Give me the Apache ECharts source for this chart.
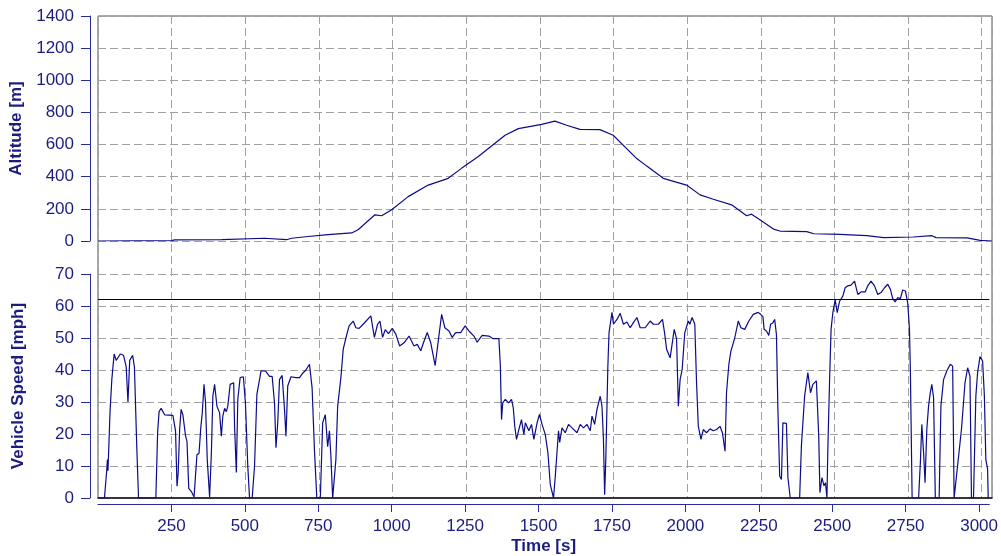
<!DOCTYPE html>
<html>
<head>
<meta charset="utf-8">
<script src="https://cdn.jsdelivr.net/npm/echarts@6/dist/echarts.min.js"></script>
<style>
  html, body { margin: 0; padding: 0; background: #fff; }
  #main { width: 1001px; height: 556px; }
</style>
</head>
<body>
<div id="main"></div>
<script>
// altitude profile [s] / [m]
const altTime = [0, 250, 260, 420, 425, 565, 570, 640, 657, 713, 781, 861, 883, 940, 963, 997, 1053, 1121, 1189, 1234, 1290, 1382, 1427, 1506, 1551, 1591, 1636, 1704, 1749, 1829, 1863, 1919, 1998, 2044, 2089, 2151, 2202, 2219, 2247, 2293, 2315, 2406, 2430, 2519, 2610, 2667, 2768, 2831, 2845, 2950, 2995, 3035];
const altValue = [0, 2, 7, 8, 17, 17, 8, 8, 17, 28, 40, 50, 70, 163, 157, 194, 276, 348, 390, 452, 524, 658, 699, 726, 746, 720, 695, 693, 658, 513, 466, 390, 348, 287, 260, 225, 157, 167, 132, 74, 62, 58, 45, 41, 33, 21, 25, 33, 21, 19, 4, 0];

// vehicle speed [s] / [mph]
const speedTime = [0, 22, 30, 32, 34, 41, 47, 55, 62, 76, 87, 96, 102, 108, 118, 124, 132, 138, 197, 203, 208, 215, 221, 227, 255, 264, 269, 273, 278, 283, 289, 298, 303, 309, 318, 327, 332, 337, 344, 350, 355, 361, 366, 372, 380, 386, 391, 397, 405, 414, 420, 425, 431, 437, 442, 450, 462, 465, 471, 476, 484, 495, 502, 510, 516, 525, 533, 541, 550, 555, 570, 584, 593, 601, 606, 612, 618, 627, 635, 640, 646, 657, 674, 686, 697, 708, 720, 729, 737, 745, 757, 765, 774, 782, 788, 793, 799, 804, 810, 816, 827, 835, 844, 855, 869, 878, 889, 906, 929, 941, 952, 960, 969, 978, 989, 1002, 1014, 1027, 1042, 1059, 1076, 1087, 1099, 1110, 1121, 1133, 1148, 1155, 1170, 1181, 1195, 1206, 1218, 1235, 1250, 1263, 1280, 1291, 1308, 1331, 1345, 1365, 1370, 1374, 1378, 1387, 1398, 1408, 1414, 1419, 1425, 1433, 1442, 1450, 1455, 1467, 1476, 1484, 1495, 1503, 1512, 1523, 1532, 1540, 1551, 1557, 1568, 1572, 1580, 1591, 1602, 1614, 1631, 1642, 1653, 1665, 1676, 1682, 1691, 1699, 1710, 1716, 1721, 1725, 1729, 1736, 1740, 1750, 1755, 1767, 1778, 1789, 1801, 1812, 1823, 1835, 1846, 1863, 1880, 1891, 1908, 1922, 1929, 1936, 1948, 1953, 1962, 1970, 1976, 1982, 1989, 1998, 2010, 2015, 2023, 2032, 2038, 2044, 2053, 2061, 2072, 2084, 2095, 2106, 2118, 2126, 2135, 2140, 2148, 2155, 2168, 2180, 2189, 2202, 2216, 2231, 2248, 2256, 2264, 2268, 2276, 2284, 2290, 2298, 2304, 2310, 2315, 2321, 2327, 2332, 2344, 2349, 2357, 2389, 2395, 2406, 2417, 2426, 2434, 2446, 2454, 2458, 2465, 2472, 2477, 2482, 2485, 2491, 2496, 2502, 2510, 2517, 2525, 2536, 2544, 2553, 2564, 2576, 2587, 2598, 2612, 2621, 2632, 2644, 2655, 2666, 2678, 2689, 2698, 2706, 2714, 2723, 2732, 2740, 2749, 2757, 2763, 2766, 2772, 2794, 2800, 2805, 2811, 2816, 2822, 2828, 2834, 2839, 2845, 2851, 2864, 2870, 2879, 2890, 2902, 2910, 2915, 2921, 2940, 2952, 2961, 2969, 2974, 2981, 2989, 2995, 3003, 3012, 3018, 3023, 3029, 3031];
const speedValue = [0, 0, 9, 12, 8.5, 27, 37, 45, 43, 45, 44.6, 41, 30, 43, 44.6, 41, 16, 0, 0, 20.5, 27, 28, 27.5, 26, 25.8, 21, 3.7, 7.8, 21.4, 27.7, 26, 19.5, 17.7, 3, 2, 0.3, 7, 13.5, 14, 22, 26.6, 35.5, 30, 12, 0.3, 14, 31.8, 35.5, 28.7, 26.6, 19.3, 25.6, 28, 27, 28.7, 35.5, 36, 22.4, 8, 30.8, 37.6, 37.9, 29.7, 10, 0, 0, 10, 32.4, 37, 39.7, 39.7, 38, 38, 29.7, 15.7, 23.5, 37, 38.3, 27.7, 19.3, 35, 37.9, 37.6, 37.6, 39, 40, 41.8, 34.4, 15, 0, 0, 23.5, 26, 16, 21, 13, 0, 0, 12, 28.7, 37.6, 46.5, 50, 53.8, 55.3, 53.2, 53, 54.6, 56.9, 50.2, 54.3, 55.3, 50.2, 52.6, 51.4, 53, 51.2, 47.5, 48.5, 50.6, 47.5, 48, 46, 49, 51.7, 48.5, 41.4, 46.5, 57.4, 53.2, 52.2, 50.2, 51.7, 51.7, 53.8, 52.2, 50.6, 48.7, 50.8, 50.6, 49.8, 49.8, 41.2, 24.5, 29.7, 30.8, 29.7, 30.8, 28.2, 22.4, 18.3, 21.4, 24.5, 19.8, 23.5, 21, 23, 18.3, 23.5, 26.1, 23, 19.8, 14, 4.2, 0, 6.8, 21, 17.4, 21.9, 20.4, 23, 21.9, 20.4, 23, 21.9, 23, 21, 25.6, 23, 27.7, 31.8, 28.7, 18.3, 1, 12, 41.2, 51.7, 58, 54.3, 55.8, 57.7, 54.3, 55, 53.2, 54.8, 56.4, 53.2, 53.2, 55.3, 54.3, 54.3, 55.8, 51.7, 46.5, 43.8, 43.3, 52.7, 49.7, 28.7, 37, 40.2, 51.7, 55.3, 54.3, 56.4, 54.3, 36, 22.4, 18.3, 21.4, 20.4, 21.6, 21, 21.4, 22.4, 20.4, 14.6, 32.9, 41.8, 45.9, 50, 55.3, 53.2, 52.7, 55.3, 57.4, 58, 57.4, 56.7, 52.7, 52.2, 50.8, 54.3, 54.8, 55.8, 51.1, 27.7, 6.9, 5.8, 23.5, 23.3, 6.4, 0, 0, 16.3, 31.9, 39.2, 32.9, 35.5, 36.6, 19.4, 1.7, 6.4, 3.8, 4.8, 0, 15.2, 37, 52.7, 57.9, 62, 57.9, 61.5, 63.1, 65.7, 66.3, 66.5, 67.8, 63.6, 64.4, 64.4, 66.3, 67.8, 66.3, 63.6, 64.2, 65.7, 66.8, 65.2, 62.3, 61.3, 62.6, 62.3, 65, 64.7, 61, 52.7, 40, 0, 0, 11, 23, 14.2, 4.8, 21.5, 28.8, 33, 35.5, 31.4, 0, 0, 28.8, 37, 39.7, 41.8, 41.2, 0, 0, 21.5, 36, 40.7, 38, 0, 0, 31.9, 39.2, 44.2, 42.8, 31.9, 12, 9, 0];

const speedLimit = 62.14; // 100 km/h
const timeTicks = [250, 500, 750, 1000, 1250, 1500, 1750, 2000, 2250, 2500, 2750, 3000];

const altData = altTime.map((t, i) => [t, altValue[i]]);
const speedData = speedTime.map((t, i) => [t, speedValue[i]]);

const lineCol = '#0c0c8a';
const axisCol = '#2a2aa0';
const textCol = '#1c1c80';
const font = 'Liberation Sans, Arial, sans-serif';
const dashed = { show: true, lineStyle: { color: '#a0a0a0', type: [8, 4], width: 1 } };
const plain = v => String(v);
const nameStyle = { color: textCol, fontSize: 17, fontWeight: 'bold', fontFamily: font };

const chart = echarts.init(document.getElementById('main'));

const yBase = {
    type: 'value',
    offset: 8,
    axisLine: { show: true, onZero: false, lineStyle: { color: axisCol, width: 1 } },
    axisTick: { show: true, length: 9, lineStyle: { color: axisCol } },
    axisLabel: { color: textCol, fontSize: 17, fontFamily: font, margin: 16, formatter: plain },
    splitLine: dashed,
    nameLocation: 'middle',
    nameGap: 63,
    nameTextStyle: nameStyle
};

chart.setOption({
    animation: false,
    backgroundColor: '#fff',
    grid: [
        // frame + vertical grid across both panels
        { left: 98, right: 9, top: 16, height: 482, show: true, borderColor: '#555', borderWidth: 1, backgroundColor: 'transparent' },
        { left: 98, right: 9, top: 16, height: 225 },
        { left: 98, right: 9, top: 274, height: 224 }
    ],
    xAxis: [
        {
            gridIndex: 0, type: 'value', min: 0, max: 3035, interval: 250,
            axisLine: { show: true, onZero: false, lineStyle: { color: '#111', width: 1.5 } },
            axisTick: { show: false }, axisLabel: { show: false },
            splitLine: dashed
        },
        { gridIndex: 1, type: 'value', min: 0, max: 3035, show: false },
        {
            gridIndex: 2, type: 'value', min: 0, max: 3035, interval: 250,
            offset: 6,
            axisLine: { show: true, onZero: false, lineStyle: { color: axisCol, width: 1 } },
            axisTick: { show: true, length: 8, customValues: timeTicks, lineStyle: { color: axisCol } },
            axisLabel: { color: textCol, fontSize: 17, fontFamily: font, margin: 14, customValues: timeTicks, formatter: plain },
            splitLine: { show: false },
            name: 'Time [s]',
            nameLocation: 'middle',
            nameGap: 34,
            nameTextStyle: nameStyle
        }
    ],
    yAxis: [
        { gridIndex: 0, type: 'value', min: 0, max: 1, show: false },
        Object.assign({}, yBase, { gridIndex: 1, min: 0, max: 1400, interval: 200, name: 'Altitude [m]' }),
        Object.assign({}, yBase, { gridIndex: 2, min: 0, max: 70, interval: 10, name: 'Vehicle Speed [mph]' })
    ],
    series: [
        {
            name: 'Altitude', type: 'line', xAxisIndex: 1, yAxisIndex: 1,
            data: altData, showSymbol: false, symbol: 'none',
            lineStyle: { color: lineCol, width: 1.2 }
        },
        {
            name: 'Vehicle Speed', type: 'line', xAxisIndex: 2, yAxisIndex: 2,
            data: speedData, showSymbol: false, symbol: 'none',
            lineStyle: { color: lineCol, width: 1.2 },
            markLine: {
                silent: true, symbol: 'none', label: { show: false },
                lineStyle: { color: '#000', type: 'solid', width: 1 },
                data: [{ yAxis: speedLimit }]
            }
        }
    ]
});
</script>
</body>
</html>
